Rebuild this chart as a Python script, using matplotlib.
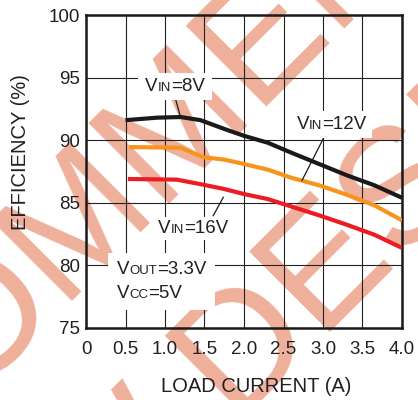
import matplotlib.pyplot as plt
from matplotlib.patches import Rectangle
from matplotlib.transforms import Bbox, IdentityTransform

plt.rcParams['font.family'] = ['Liberation Sans', 'DejaVu Sans']

# efficiency curves
cur_8v = [0.5, 0.9, 1.2, 1.45, 1.75, 2.0, 2.3, 2.6, 2.95, 3.3, 3.65, 4.0]
eff_8v = [91.6, 91.8, 91.85, 91.6, 90.9, 90.35, 89.8, 89.0, 88.1, 87.2, 86.4, 85.4]

cur_12v = [0.55, 1.2, 1.48, 1.75, 2.0, 2.3, 2.6, 2.95, 3.3, 3.65, 4.0]
eff_12v = [89.45, 89.4, 88.65, 88.45, 88.1, 87.65, 87.0, 86.4, 85.65, 84.8, 83.6]

cur_16v = [0.53, 1.15, 1.48, 1.75, 2.0, 2.3, 2.6, 2.95, 3.3, 3.65, 4.0]
eff_16v = [86.9, 86.85, 86.45, 86.1, 85.7, 85.3, 84.7, 84.0, 83.25, 82.45, 81.4]

x_ticks = [0, 0.5, 1.0, 1.5, 2.0, 2.5, 3.0, 3.5, 4.0]
x_labels = ["0", "0.5", "1.0", "1.5", "2.0", "2.5", "3.0", "3.5", "4.0"]
y_ticks = [75, 80, 85, 90, 95, 100]

W, H = 418, 400
fig = plt.figure(figsize=(W / 100, H / 100), dpi=100)
ax = fig.add_axes([86 / W, 1 - 328 / H, 316 / W, 313 / H])


def px(x, y):
    # pixel position in the picture -> figure fraction
    return x / W, 1 - y / H


# "not recommended" watermark behind the plot
wm = "#efb09b"
for s, (x0, y0) in [("RECOMMENDED", (-278, 638)), ("NEW DESIGNS", (-68, 731))]:
    fx, fy = px(x0, y0)
    ax.text(fx, fy, s, transform=fig.transFigure, rotation=45,
            rotation_mode="anchor", ha="left", va="baseline",
            fontsize=119, color=wm, clip_on=False, zorder=0.2)

ax.plot(cur_8v, eff_8v, color="#1a1a1a", lw=3, solid_capstyle="butt", zorder=3)
ax.plot(cur_12v, eff_12v, color="#f7941d", lw=3, solid_capstyle="butt", zorder=3)
ax.plot(cur_16v, eff_16v, color="#ed1c24", lw=3, solid_capstyle="butt", zorder=3)

ax.set_xlim(0, 4.0)
ax.set_ylim(75, 100)
ax.set_xticks(x_ticks)
ax.set_xticklabels(x_labels)
ax.set_yticks(y_ticks)
ax.set_axisbelow(True)
ax.grid(True, color="#222222", lw=0.8)
ax.tick_params(length=0, labelsize=13.5, labelcolor="#231f20")
ax.tick_params(axis="x", pad=9.5)
ax.tick_params(axis="y", pad=4.3)
for sp in ax.spines.values():
    sp.set_linewidth(1.8)
    sp.set_color("#1a1a1a")

fig.text(256 / W, 1 - 387 / H, "LOAD CURRENT (A)", fontsize=14.5,
         ha="center", va="center", color="#231f20")
fig.text(21 / W, 1 - 152 / H, "EFFICIENCY (%)", fontsize=14.5, rotation=90,
         ha="center", va="center", color="#231f20")

# leader lines from labels to curves
ax.plot([1.127, 1.19], [93.43, 91.99], color="#1a1a1a", lw=0.9, zorder=4)
ax.plot([3.05, 2.734], [90.7, 86.78], color="#1a1a1a", lw=0.9, zorder=4)
ax.plot([1.738, 1.61], [85.44, 83.97], color="#1a1a1a", lw=0.9, zorder=4)

BIG, SMALL = 13.5, 9.5


def chain(x, y, parts):
    # text pieces set one after another on a common baseline
    out = [ax.text(x, y, parts[0][0], fontsize=parts[0][1], ha="left",
                   va="baseline", color="#231f20", zorder=6)]
    for s, fs in parts[1:]:
        out.append(ax.annotate(s, xy=(1, y), xycoords=(out[-1], "data"),
                               fontsize=fs, ha="left", va="baseline",
                               color="#231f20", zorder=6))
    return out


groups = [
    (chain(0.747, 93.9, [("V", BIG), ("IN", SMALL), ("=8V", BIG)]), (7, 5)),
    (chain(2.667, 90.92, [("V", BIG), ("IN", SMALL), ("=12V", BIG)]), (5, 5)),
    (chain(0.915, 82.59, [("V", BIG), ("IN", SMALL), ("=16V", BIG)]), (3, 3)),
    (chain(0.389, 79.30, [("V", BIG), ("OUT", SMALL), ("=3.3V", BIG)])
     + chain(0.389, 77.38, [("V", BIG), ("CC", SMALL), ("=5V", BIG)]), (9, 8)),
]

fig.canvas.draw()
r = fig.canvas.get_renderer()
for texts, (padx, pady) in groups:
    bb = Bbox.union([t.get_window_extent(r) for t in texts])
    ax.add_patch(Rectangle((bb.x0 - padx, bb.y0 - pady), bb.width + 2 * padx,
                           bb.height + 2 * pady, transform=IdentityTransform(),
                           fc="white", ec="none", zorder=5))

fig.savefig("out.png", dpi=100)
